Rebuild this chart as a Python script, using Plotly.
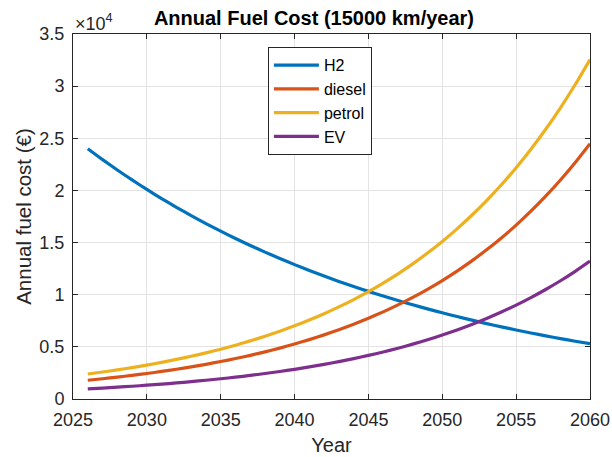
import plotly.graph_objects as go

years = list(range(2026, 2061))
h2 = [24000, 22957, 21960, 21006, 20093, 19220, 18385, 17586, 16822, 16091,
      15392, 14723, 14083, 13471, 12886, 12326, 11791, 11278, 10788, 10320,
      9871, 9442, 9032, 8640, 8264, 7905, 7562, 7233, 6919, 6618,
      6331, 6056, 5793, 5541, 5300]
diesel = [1800, 1944, 2099, 2266, 2447, 2642, 2853, 3081, 3327, 3592,
          3879, 4188, 4523, 4883, 5273, 5694, 6148, 6639, 7168, 7740,
          8358, 9024, 9744, 10522, 11361, 12268, 13247, 14304, 15445, 16677,
          18008, 19445, 20996, 22672, 24481]
petrol = [2394, 2586, 2792, 3014, 3255, 3514, 3794, 4098, 4425, 4777,
          5159, 5570, 6016, 6494, 7013, 7573, 8177, 8830, 9533, 10294,
          11116, 12002, 12960, 13994, 15110, 16316, 17619, 19024, 20542, 22180,
          23951, 25862, 27925, 30154, 32560]
ev = [972, 1050, 1133, 1224, 1321, 1427, 1541, 1664, 1797, 1940,
      2095, 2262, 2442, 2637, 2847, 3075, 3320, 3585, 3871, 4180,
      4513, 4873, 5262, 5682, 6135, 6625, 7153, 7724, 8340, 9005,
      9724, 10500, 11338, 12243, 13220]

series = [("H2", h2, "#0072BD"), ("diesel", diesel, "#D95319"),
          ("petrol", petrol, "#EDB120"), ("EV", ev, "#7E2F8E")]

x_ticks = [2025, 2030, 2035, 2040, 2045, 2050, 2055, 2060]
y_tickvals = [0, 5000, 10000, 15000, 20000, 25000, 30000, 35000]
y_ticktext = ["0", "0.5", "1", "1.5", "2", "2.5", "3", "3.5"]

fig = go.Figure()
for name, vals, color in series:
    fig.add_trace(go.Scatter(x=years, y=vals, mode="lines", name=name,
                             line=dict(color=color, width=3.2, shape="spline",
                                       smoothing=0.6)))

font_family = "Liberation Sans, Arial, Helvetica, sans-serif"
axis_col = "#262626"
fig.update_layout(
    width=612, height=457,
    margin=dict(l=73, r=22, t=34, b=58, autoexpand=False),
    paper_bgcolor="white", plot_bgcolor="white",
    font=dict(family=font_family, color=axis_col, size=18),
    title=dict(text="<b>Annual Fuel Cost (15000 km/year)</b>", x=0.513, xanchor="center",
               y=0.96, yanchor="middle", font=dict(size=20, color="black")),
    legend=dict(x=0.377, y=0.964, xanchor="left", yanchor="top",
                bordercolor=axis_col, borderwidth=1, bgcolor="white",
                font=dict(size=16, color="black"), tracegroupgap=0,
                itemwidth=45),
    showlegend=True,
)
fig.update_xaxes(range=[2025, 2060], tickvals=x_ticks, ticks="inside", ticklen=5,
                 tickcolor=axis_col, showline=True, linecolor=axis_col, linewidth=1,
                 mirror="ticks", showgrid=True, gridcolor="#e3e3e3", zeroline=False,
                 automargin=False, ticklabelstandoff=4,
                 title=dict(text="Year", font=dict(size=20), standoff=9),
                 tickfont=dict(size=18))
fig.update_yaxes(range=[0, 35000], tickvals=y_tickvals, ticktext=y_ticktext,
                 ticks="inside", ticklen=5, tickcolor=axis_col, showline=True,
                 linecolor=axis_col, linewidth=1, mirror="ticks", showgrid=True,
                 gridcolor="#e3e3e3", zeroline=False, automargin=False,
                 ticklabelstandoff=4,
                 title=dict(text="Annual fuel cost (€)", font=dict(size=20.5), standoff=2),
                 tickfont=dict(size=18))
fig.add_annotation(xref="paper", yref="paper", x=0.0, y=1.0, xanchor="left",
                   yanchor="bottom", yshift=-2, showarrow=False,
                   text="×10<sup>4</sup>", font=dict(size=18, color=axis_col))

fig.write_html("out.html", config={"displayModeBar": False},
               post_script="document.body.style.margin='0';")
